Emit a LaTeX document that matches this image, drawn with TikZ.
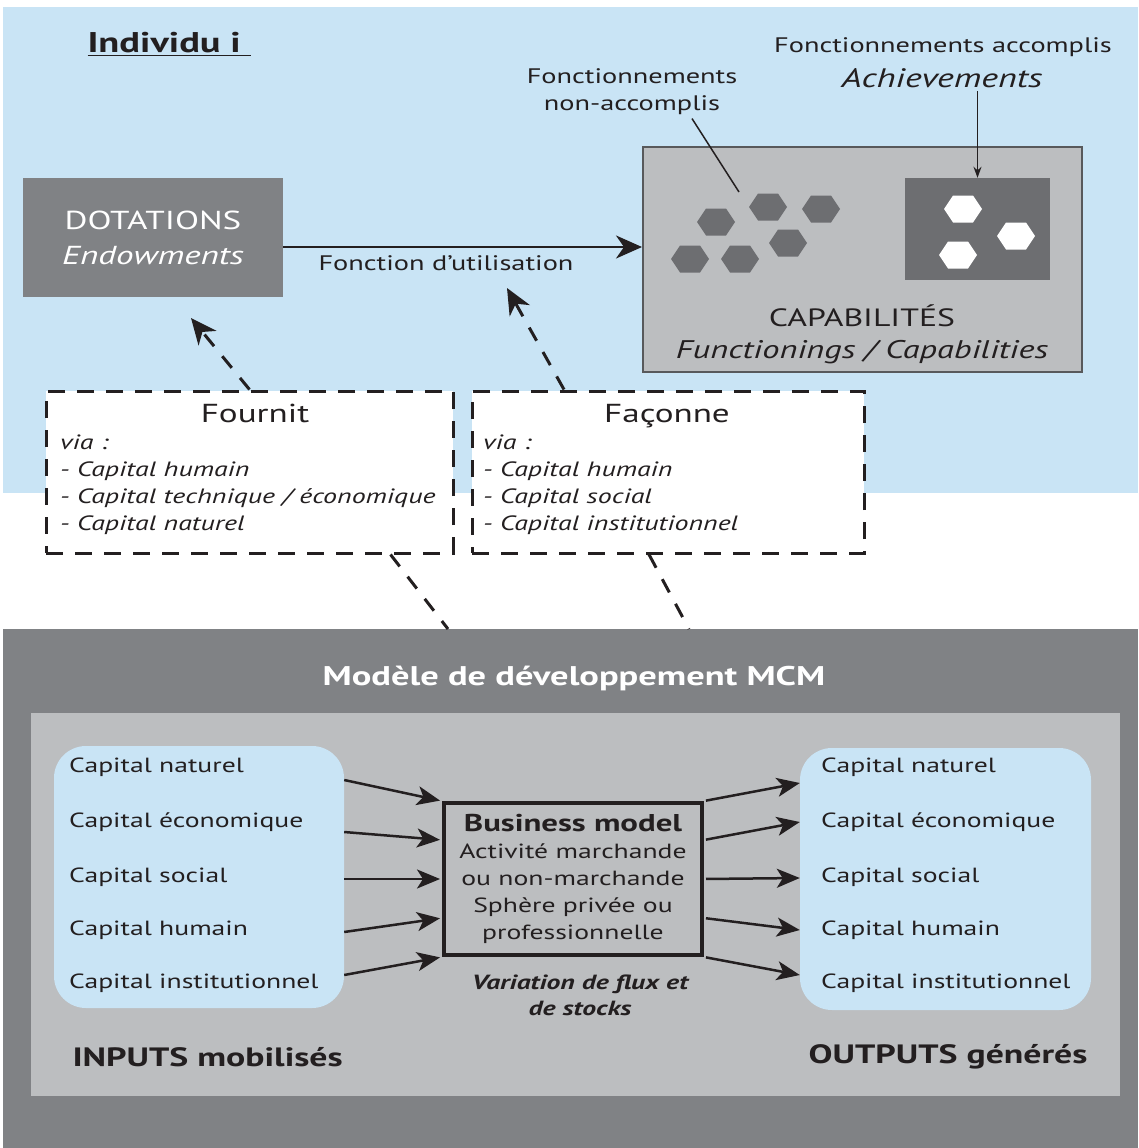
\documentclass[tikz,border=0pt]{standalone}
\usepackage{fontspec}
\setmainfont[FakeStretch=1.35]{PT Sans}
\usepackage{tikz}
\usetikzlibrary{calc,positioning,arrows.meta,shapes.geometric}
\definecolor{bleuciel}{HTML}{C9E4F5}
\definecolor{grisfonce}{HTML}{808285}
\definecolor{grisclair}{HTML}{BCBEC0}
\definecolor{grismoyen}{HTML}{6D6E71}
\definecolor{bordcap}{HTML}{58595B}
\definecolor{encre}{HTML}{231F20}
\tikzset{
  >={Stealth[length=26pt,width=23pt,inset=8pt]},
  dotbox/.style={
    rectangle,
    fill=grisfonce,
    text=white,
    minimum width=260pt,
    minimum height=119pt,
    align=center,
    font=\fontsize{26}{35}\selectfont},
  capbox/.style={
    rectangle,
    fill=grisclair,
    draw=bordcap, line width=2pt,
    minimum width=439pt,
    minimum height=225pt},
  achbox/.style={rectangle, fill=grismoyen, minimum width=145pt, minimum height=102pt},
  captext/.style={align=center, text=encre, font=\fontsize{25}{32}\selectfont},
  legende/.style={align=center, text=encre, font=\fontsize{21}{27}\selectfont},
  titre/.style={anchor=west, text=encre, font=\fontsize{28.5}{34}\selectfont\bfseries},
  viabox/.style={
    rectangle,
    fill=white,
    draw=encre, line width=3pt,
    dash pattern=on 17pt off 12pt,
    minimum width=407pt,
    minimum height=162pt},
  viatitle/.style={anchor=base, text=encre, font=\fontsize{26}{30}\selectfont},
  vialist/.style={anchor=north west, align=left, inner sep=0pt, text=encre,
    font=\fontsize{20.7}{27}\selectfont\itshape},
  pointille/.style={draw=encre, line width=3pt, dash pattern=on 15pt off 13pt},
  lien/.style={draw=encre, line width=1.5pt},
  fleche/.style={->, draw=encre, line width=2.5pt},
  mcmtitre/.style={text=white, font=\fontsize{27}{30}\selectfont\bfseries},
  capitalbox/.style={
    rectangle,
    rounded corners=32pt,
    fill=bleuciel,
    minimum width=290pt,
    minimum height=262pt},
  capital/.style={anchor=west, inner sep=0pt, text=encre, font=\fontsize{20.5}{25}\selectfont},
  bizbox/.style={
    rectangle,
    fill=grisclair,
    draw=encre, line width=4pt,
    minimum width=258pt,
    minimum height=152pt,
    align=center, text=encre,
    font=\fontsize{20.5}{27}\selectfont},
  variation/.style={align=center, text=encre, font=\fontsize{20.5}{26}\selectfont\bfseries\itshape},
  gros/.style={text=encre, font=\fontsize{26.5}{30}\selectfont\bfseries},
  flux/.style={-{Stealth[length=23pt,width=19pt,inset=6pt]}, draw=encre, line width=2.5pt},
}

\begin{document}
\begin{tikzpicture}[x=1pt,y=-1pt]
  \useasboundingbox (0,0) rectangle (1138,1148);
  \fill[bleuciel] (3,7) rectangle (1138,493);
  \fill[grisfonce] (3,629) rectangle (1138,1148);
  \fill[grisclair] (31,713) rectangle (1120,1096);

  % individu
  \node[titre] (indiv) at (84,44) {\underline{Individu i\ }};
  \node[dotbox] (dot) at (153,237.5) {DOTATIONS\\\textit{Endowments}};
  \node[capbox] (cap) at (862.5,259.5) {};
  \node[achbox] (ach) at (977.5,229) {};
  \foreach \hx/\hy in {716/222, 768/207, 821/209, 788/243, 690/259, 740/259}
    \fill[grismoyen] (\hx,\hy) ++(-19,0) -- ++(9,-13.5) -- ++(20,0) -- ++(9,13.5)
      -- ++(-9,13.5) -- ++(-20,0) -- cycle;
  \foreach \hx/\hy in {963/209, 1016/236, 958/255}
    \fill[white] (\hx,\hy) ++(-19,0) -- ++(9,-13.5) -- ++(20,0) -- ++(9,13.5)
      -- ++(-9,13.5) -- ++(-20,0) -- cycle;
  \node[captext] (capt) at (862,334) {CAPABILITÉS\\{\fontsize{25.5}{32}\selectfont\itshape Functionings / Capabilities}};

  \node[legende] (nonacc) at (632,92) {Fonctionnements\\non-accomplis};
  \node[legende] (acc) at (943,47) {Fonctionnements accomplis};
  \node[legende, font=\fontsize{26.7}{30}\selectfont\itshape] (achl) at (942,78) {Achievements};
  \coordinate (nonaccpt) at (739,192);
  \draw[lien] ([xshift=60pt]nonacc.south) -- (nonaccpt);
  \draw[lien, -{Stealth[length=11pt,width=8pt]}] (achl.south -| ach.north) -- (ach.north);

  \draw[fleche] ([yshift=-9.5pt]dot.east) -- ([yshift=-9.5pt]dot.east -| cap.west);
  \node[legende] (futil) at (446,263) {Fonction d’utilisation};

  % fournit / faconne
  \node[viabox] (fournit) at (249.5,472) {};
  \node[viabox, minimum width=392pt] (faconne) at (668,472) {};
  \node[viatitle] (fournitT) at (255,422) {Fournit};
  \node[vialist] (fournitL) at (60,435) {via :\\- Capital humain\\- Capital technique / économique\\- Capital naturel};
  \node[viatitle] (faconneT) at (667,422) {Façonne};
  \node[vialist] (faconneL) at (483,435) {via :\\- Capital humain\\- Capital social\\- Capital institutionnel};

  \coordinate (versdot) at (191,318);
  \coordinate (versutil) at (507,288);
  \coordinate (mcmA) at (448,629);
  \coordinate (mcmB) at (689,629);
  \draw[pointille, ->] (fournit.north) -- (versdot);
  \draw[pointille, ->] ([xshift=-104pt]faconne.north) -- (versutil);
  \draw[pointille] ([xshift=141pt]fournit.south) -- (mcmA);
  \draw[pointille] ([xshift=-19pt]faconne.south) -- (mcmB);

  % modele MCM
  \node[mcmtitre] (mcm) at (574,678) {Modèle de développement MCM};
  \node[capitalbox] (inbox) at (199,877) {};
  \node[capitalbox, minimum width=291pt] (outbox) at (945.5,879) {};
  \node[bizbox] (bm) at (573,879) {{\fontsize{24.3}{27}\selectfont\bfseries Business model}\\Activité marchande\\ou non-marchande\\Sphère privée ou\\professionnelle};
  \node[variation] (varia) at (580,995) {Variation de flux et\\de stocks};
  \foreach \y/\nom [count=\i] in {767/Capital naturel, 822/Capital économique, 877/Capital social, 930/Capital humain, 983/Capital institutionnel}{
    \node[capital] (in\i) at (69,\y) {\nom};
    \node[capital] (out\i) at (821,\y) {\nom};
  }
  \foreach \ys [count=\i from 0] in {780,832,879,932,975}
    \draw[flux, shorten >=2pt] (inbox.east |- 0,\ys) -- ($(bm.north west)!\i/4!(bm.south west)$);
  \foreach \ye [count=\i from 0] in {783,822,878,930,975}
    \draw[flux, shorten <=2pt] ($(bm.north east)!\i/4!(bm.south east)$) -- (outbox.west |- 0,\ye);
  \node[gros, anchor=west] (inputs) at (69,1057) {INPUTS mobilisés};
  \node[gros, anchor=east] (outputs) at (1091,1057) {OUTPUTS générés};
\end{tikzpicture}
\end{document}
